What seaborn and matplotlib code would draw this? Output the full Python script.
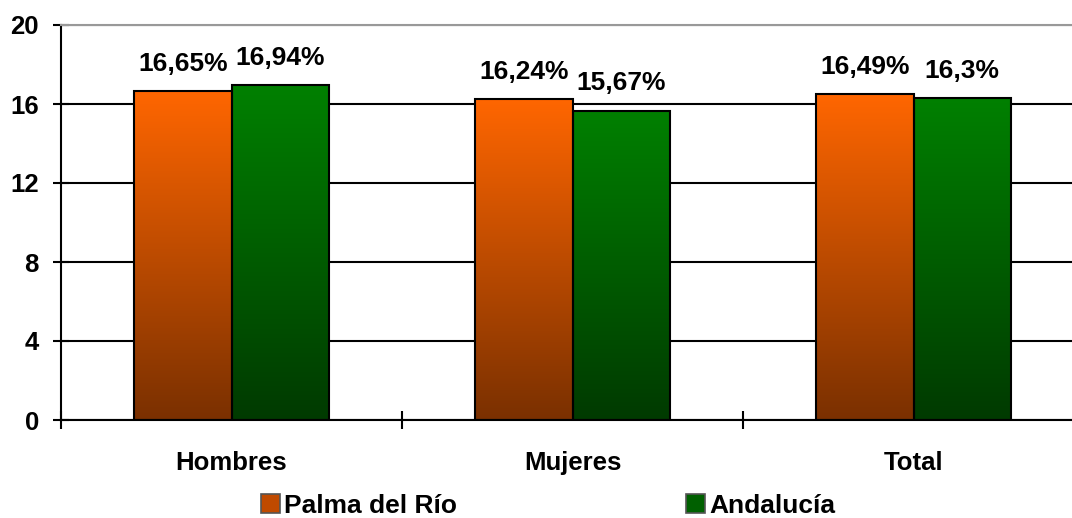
import matplotlib
matplotlib.use("Agg")
import matplotlib.pyplot as plt
import seaborn as sns
import numpy as np
import pandas as pd
from matplotlib.colors import LinearSegmentedColormap
from matplotlib.patches import Patch
from matplotlib.ticker import FixedLocator

# Datos
categorias = ["Hombres", "Mujeres", "Total"]
series = ["Palma del Río", "Andalucía"]
palma = [16.65, 16.24, 16.49]
andalucia = [16.94, 15.67, 16.3]
etiquetas_palma = ["16,65%", "16,24%", "16,49%"]
etiquetas_andalucia = ["16,94%", "15,67%", "16,3%"]

df = pd.DataFrame({
    "categoria": categorias * 2,
    "serie": [series[0]] * 3 + [series[1]] * 3,
    "valor": palma + andalucia,
})

# Colores del degradado (abajo -> arriba)
grad = {
    series[0]: ("#7a3000", "#ff6600"),
    series[1]: ("#003a00", "#008000"),
}

sns.set_style("white")
plt.rcParams["font.family"] = ["Liberation Sans", "DejaVu Sans"]
plt.rcParams["text.color"] = "black"
plt.rcParams["xtick.color"] = "black"
plt.rcParams["ytick.color"] = "black"

fig = plt.figure(figsize=(10.72, 5.18), dpi=100)
ax = fig.add_axes([61 / 1072, 1 - 420 / 518, 1023 / 1072, 395 / 518])

sns.barplot(data=df, x="categoria", y="valor", hue="serie", order=categorias,
            hue_order=series, palette=["#ff6600", "#008000"], width=0.57,
            edgecolor="black", linewidth=1.5, legend=False, ax=ax, zorder=3)

# Degradado dentro de cada barra
gradiente = np.linspace(0, 1, 256).reshape(-1, 1)
for cont, nombre in zip(ax.containers, series):
    cmap = LinearSegmentedColormap.from_list(nombre, grad[nombre])
    for barra in cont.patches:
        x0, y0 = barra.get_x(), barra.get_y()
        w, h = barra.get_width(), barra.get_height()
        im = ax.imshow(gradiente, cmap=cmap, origin="lower", aspect="auto",
                       extent=[x0, x0 + w, y0, y0 + h], zorder=2.5)
        im.set_clip_path(barra)
        barra.set_facecolor("none")
ax.set_xlim(-0.5, 2.5)
ax.set_ylim(0, 20)

# Etiquetas de valores
for cont, etiquetas in zip(ax.containers, [etiquetas_palma, etiquetas_andalucia]):
    for barra, txt in zip(cont.patches, etiquetas):
        ax.annotate(txt, (barra.get_x() + barra.get_width() / 2, barra.get_height()),
                    xytext=(0, 11), textcoords="offset points", ha="center",
                    va="bottom", fontsize=19, fontweight="bold", color="black")

# Ejes y rejilla
ax.set_yticks([0, 4, 8, 12, 16, 20])
ax.yaxis.grid(True, color="black", linewidth=1.5, zorder=0)
ax.set_axisbelow(True)
ax.spines["right"].set_visible(False)
ax.spines["top"].set_color("#999999")
ax.spines["top"].set_linewidth(1.5)
for s in ["left", "bottom"]:
    ax.spines[s].set_linewidth(1.5)
    ax.spines[s].set_color("black")

ax.tick_params(axis="y", left=True, direction="inout", length=12, width=1.5,
               pad=10, labelsize=18.5, colors="black")
ax.tick_params(axis="x", which="major", bottom=True, length=0, pad=22,
               labelsize=18.5, colors="black")
ax.xaxis.set_minor_locator(FixedLocator([-0.5, 0.5, 1.5, 2.5]))
ax.tick_params(axis="x", which="minor", bottom=True, direction="inout",
               length=13, width=1.5, colors="black")
for lab in ax.get_xticklabels() + ax.get_yticklabels():
    lab.set_fontweight("bold")
ax.set_xlabel("")
ax.set_ylabel("")

# Leyenda
handles = [Patch(facecolor="#c04a00", edgecolor="#555555", linewidth=1.2),
           Patch(facecolor="#006000", edgecolor="#555555", linewidth=1.2)]
fig.legend(handles, series, loc="center", bbox_to_anchor=(0.511, 1 - 506 / 518),
           ncol=2, frameon=False, handlelength=0.72, handleheight=0.72,
           handletextpad=0.15, columnspacing=8.7,
           prop={"weight": "bold", "size": 19})

fig.savefig("out.png", dpi=100)
